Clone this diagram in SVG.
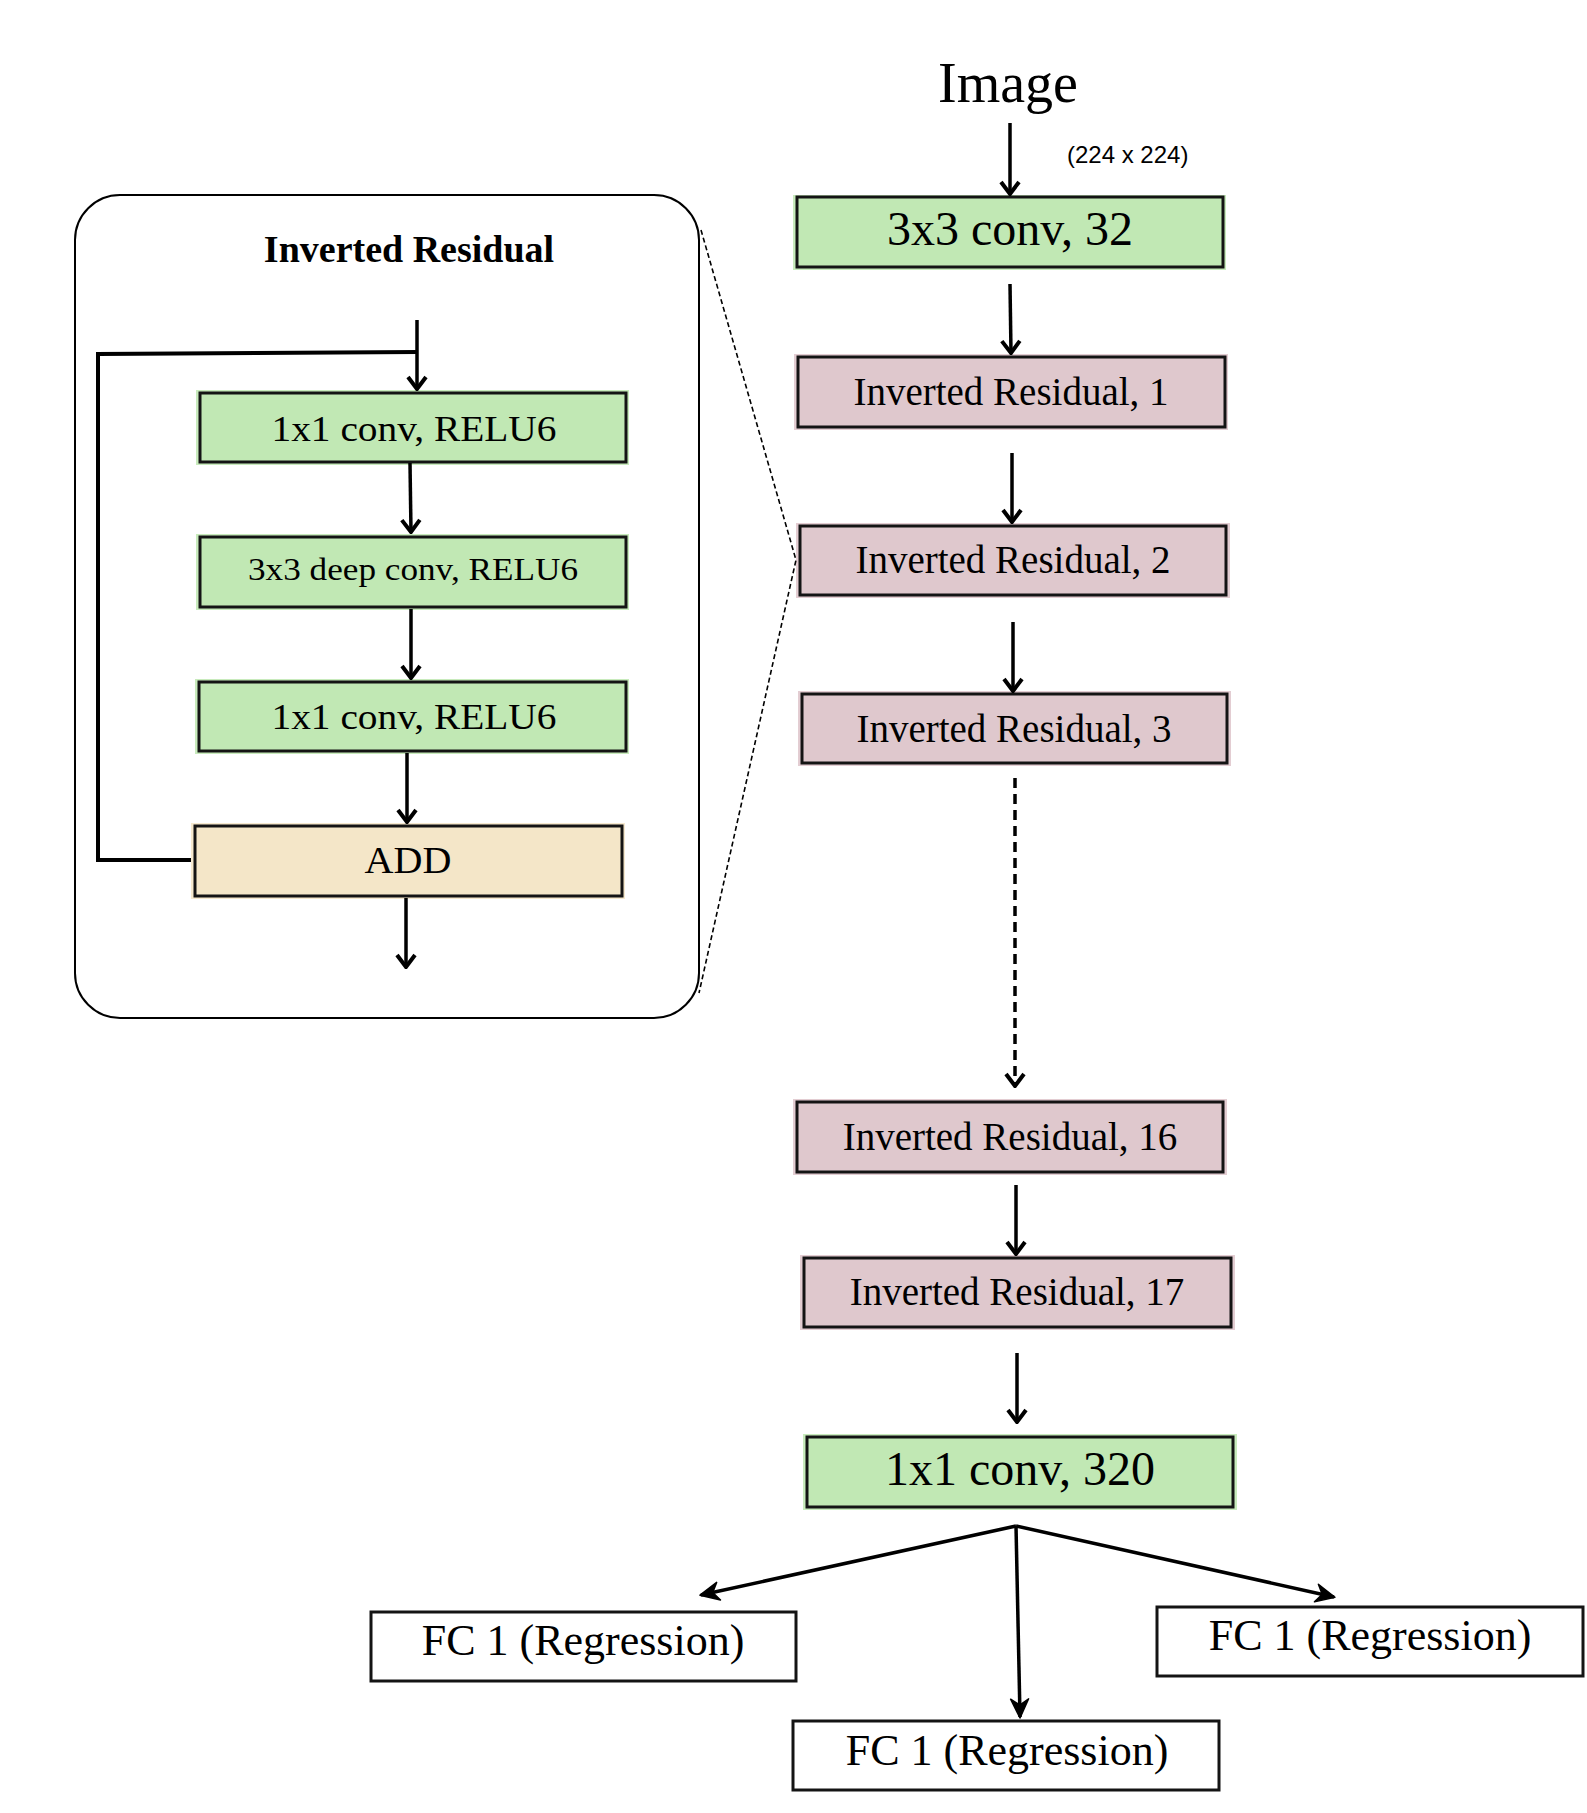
<svg xmlns="http://www.w3.org/2000/svg" width="1587" height="1813" viewBox="0 0 1587 1813">
  <style>
    .serif { font-family: "Liberation Serif", "Times New Roman", serif; fill: #000; }
    .sans { font-family: "Liberation Sans", Arial, sans-serif; fill: #000; }
    .box { stroke: #141414; stroke-width: 3; }
    .green { fill: #c1e8b4; }
    .pink { fill: #dfc8cd; }
    .tan { fill: #f4e6c8; }
    .plain { fill: #ffffff; }
    .halo-g { fill: #c8ebbc; }
    .halo-p { fill: #e3cdd2; }
    .halo-t { fill: #f6e9cf; }
    .wire { stroke: #000; stroke-width: 3.5; fill: none; }
    .skip { stroke: #000; stroke-width: 4; fill: none; }
    .zoom { stroke: #000; stroke-width: 1.6; fill: none; stroke-dasharray: 5 3; }
    .dash { stroke: #000; stroke-width: 3.5; fill: none; stroke-dasharray: 10 6; }
    .t-main { font-size: 39px; text-anchor: middle; }
    .t-big { font-size: 48px; text-anchor: middle; }
    .t-inner { font-size: 35px; text-anchor: middle; }
    .t-fc { font-size: 44px; text-anchor: middle; }
  </style>
  <defs>
    <marker id="chev" viewBox="-16 -12 18 24" refX="0" refY="0" markerWidth="18" markerHeight="24" markerUnits="userSpaceOnUse" orient="auto">
      <path d="M-12,-9 L0,0 L-12,9" stroke="#000" stroke-width="4" fill="none" stroke-linejoin="miter"/>
    </marker>
    <marker id="solid" viewBox="-22 -12 24 24" refX="0" refY="0" markerWidth="24" markerHeight="24" markerUnits="userSpaceOnUse" orient="auto">
      <path d="M1,0 L-18,-9 L-12,0 L-18,9 Z" fill="#000" stroke="#000" stroke-width="1.5" stroke-linejoin="round"/>
    </marker>
  </defs>

  <rect width="1587" height="1813" fill="#ffffff"/>

  <!-- expanded view of one inverted residual block -->
  <g id="panel">
    <rect x="75" y="195" width="624" height="823" rx="45" ry="45" fill="#ffffff" stroke="#000" stroke-width="2"/>
    <text class="serif" x="409" y="262" font-size="38" font-weight="bold" text-anchor="middle">Inverted Residual</text>
  </g>

  <g id="inner-conv1">
    <rect class="halo-g" x="196" y="390" width="433" height="75"/>
    <rect class="green box" x="200" y="393" width="426" height="69"/>
    <text class="serif t-inner" x="414" y="441" textLength="285" lengthAdjust="spacingAndGlyphs">1x1 conv, RELU6</text>
  </g>
  <g id="inner-dwconv">
    <rect class="halo-g" x="196" y="534" width="433" height="76"/>
    <rect class="green box" x="200" y="537" width="426" height="70"/>
    <text class="serif t-inner" x="413" y="580" textLength="330" lengthAdjust="spacingAndGlyphs" style="font-size:31px">3x3 deep conv, RELU6</text>
  </g>
  <g id="inner-conv2">
    <rect class="halo-g" x="195" y="679" width="434" height="75"/>
    <rect class="green box" x="199" y="682" width="427" height="69"/>
    <text class="serif t-inner" x="414" y="729" textLength="285" lengthAdjust="spacingAndGlyphs">1x1 conv, RELU6</text>
  </g>
  <g id="inner-add">
    <rect class="halo-t" x="191" y="823" width="434" height="76"/>
    <rect class="tan box" x="195" y="826" width="427" height="70"/>
    <text class="serif t-inner" x="408" y="873" textLength="87" lengthAdjust="spacingAndGlyphs" style="font-size:37px">ADD</text>
  </g>

  <!-- main network column -->
  <g id="input">
    <text class="serif" x="1008" y="102" font-size="56" text-anchor="middle">Image</text>
    <text class="sans" x="1067" y="163" font-size="24">(224 x 224)</text>
  </g>
  <g id="conv-first">
    <rect class="halo-g" x="793" y="195" width="433" height="75"/>
    <rect class="green box" x="797" y="197" width="426" height="70"/>
    <text class="serif t-big" x="1010" y="245">3x3 conv, 32</text>
  </g>
  <g id="ir-1">
    <rect class="halo-p" x="794" y="354" width="434" height="76"/>
    <rect class="pink box" x="798" y="357" width="427" height="70"/>
    <text class="serif t-main" x="1011" y="405">Inverted Residual, 1</text>
  </g>
  <g id="ir-2">
    <rect class="halo-p" x="796" y="523" width="434" height="75"/>
    <rect class="pink box" x="800" y="526" width="426" height="69"/>
    <text class="serif t-main" x="1013" y="573">Inverted Residual, 2</text>
  </g>
  <g id="ir-3">
    <rect class="halo-p" x="798" y="691" width="433" height="75"/>
    <rect class="pink box" x="802" y="694" width="425" height="69"/>
    <text class="serif t-main" x="1014" y="742">Inverted Residual, 3</text>
  </g>
  <g id="ir-16">
    <rect class="halo-p" x="793" y="1099" width="434" height="76"/>
    <rect class="pink box" x="797" y="1102" width="426" height="70"/>
    <text class="serif t-main" x="1010" y="1150">Inverted Residual, 16</text>
  </g>
  <g id="ir-17">
    <rect class="halo-p" x="800" y="1255" width="435" height="75"/>
    <rect class="pink box" x="804" y="1258" width="427" height="69"/>
    <text class="serif t-main" x="1017" y="1305">Inverted Residual, 17</text>
  </g>
  <g id="conv-last">
    <rect class="halo-g" x="803" y="1434" width="434" height="76"/>
    <rect class="green box" x="807" y="1437" width="426" height="70"/>
    <text class="serif t-big" x="1020" y="1485">1x1 conv, 320</text>
  </g>

  <!-- regression heads -->
  <g id="fc-left">
    <rect class="plain box" x="371" y="1612" width="425" height="69" stroke-width="2.5"/>
    <text class="serif t-fc" x="583" y="1655">FC 1 (Regression)</text>
  </g>
  <g id="fc-right">
    <rect class="plain box" x="1157" y="1607" width="426" height="69" stroke-width="2.5"/>
    <text class="serif t-fc" x="1370" y="1650">FC 1 (Regression)</text>
  </g>
  <g id="fc-middle">
    <rect class="plain box" x="793" y="1721" width="426" height="69" stroke-width="2.5"/>
    <text class="serif t-fc" x="1007" y="1765">FC 1 (Regression)</text>
  </g>

  <g id="connectors">
    <!-- zoom guide lines from the panel to block 2 -->
    <path class="zoom" d="M701,230 L796,560 L699,993"/>

    <!-- inner block -->
    <line class="wire" x1="417" y1="320" x2="417" y2="389" marker-end="url(#chev)"/>
    <path class="skip" d="M191,860 L98,860 L98,354 L418,352"/>
    <line class="wire" x1="410" y1="463" x2="411" y2="532" marker-end="url(#chev)"/>
    <line class="wire" x1="411" y1="609" x2="411" y2="678" marker-end="url(#chev)"/>
    <line class="wire" x1="407" y1="753" x2="407" y2="822" marker-end="url(#chev)"/>
    <line class="wire" x1="406" y1="898" x2="406" y2="967" marker-end="url(#chev)"/>

    <!-- main column -->
    <line class="wire" x1="1010" y1="123" x2="1010" y2="194" marker-end="url(#chev)"/>
    <line class="wire" x1="1010" y1="284" x2="1011" y2="353" marker-end="url(#chev)"/>
    <line class="wire" x1="1012" y1="453" x2="1012" y2="522" marker-end="url(#chev)"/>
    <line class="wire" x1="1013" y1="622" x2="1013" y2="691" marker-end="url(#chev)"/>
    <line class="dash" x1="1015" y1="778" x2="1015" y2="1086" marker-end="url(#chev)"/>
    <line class="wire" x1="1016" y1="1185" x2="1016" y2="1254" marker-end="url(#chev)"/>
    <line class="wire" x1="1017" y1="1353" x2="1017" y2="1422" marker-end="url(#chev)"/>

    <!-- fan-out to the heads -->
    <line class="wire" x1="1016" y1="1526" x2="701" y2="1595" stroke-width="4.5" marker-end="url(#solid)"/>
    <line class="wire" x1="1016" y1="1526" x2="1334" y2="1597" stroke-width="4.5" marker-end="url(#solid)"/>
    <line class="wire" x1="1016" y1="1526" x2="1020" y2="1717" marker-end="url(#solid)"/>
  </g>
</svg>
